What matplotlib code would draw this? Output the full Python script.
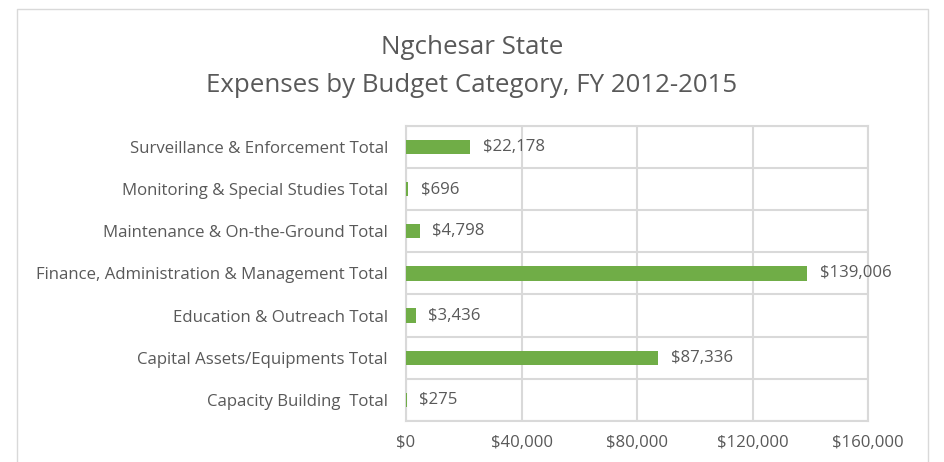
import matplotlib
matplotlib.use("Agg")
import matplotlib.pyplot as plt
from matplotlib.lines import Line2D
from matplotlib.ticker import FuncFormatter

plt.rcParams['font.family'] = ['Open Sans', 'DejaVu Sans']

categories = ["Capacity Building  Total",
              "Capital Assets/Equipments Total",
              "Education & Outreach Total",
              "Finance, Administration & Management Total",
              "Maintenance & On-the-Ground Total",
              "Monitoring & Special Studies Total",
              "Surveillance & Enforcement Total"]
values = [275, 87336, 3436, 139006, 4798, 696, 22178]
x_ticks = [0, 40000, 80000, 120000, 160000]

text_col = "#595959"
grid_col = "#D9D9D9"
bar_col = "#70AD47"
fs = 12.1

fig = plt.figure(figsize=(9.44, 4.62), dpi=100)
ax = fig.add_axes([0.4301, 0.0887, 0.4894, 0.639])

y = list(range(len(categories)))
ax.barh(y, values, height=0.34, color=bar_col, zorder=3)

for yi, v in zip(y, values):
    ax.annotate("${:,}".format(v), (v, yi), xytext=(9, 0), textcoords="offset points",
                va="center", ha="left", fontsize=fs, color=text_col)

ax.set_xlim(0, 160000)
ax.set_ylim(-0.5, len(categories) - 0.5)
ax.set_xticks(x_ticks)
ax.xaxis.set_major_formatter(FuncFormatter(lambda v, p: "${:,.0f}".format(v)))
ax.set_yticks(y)
ax.set_yticklabels(categories)
ax.set_yticks([i - 0.5 for i in range(len(categories) + 1)], minor=True)
ax.tick_params(axis="both", which="both", length=0, colors=text_col, labelsize=fs)
ax.tick_params(axis="x", pad=10)
ax.tick_params(axis="y", pad=13)
ax.grid(axis="x", which="major", color=grid_col, linewidth=1.5, zorder=0)
ax.grid(axis="y", which="minor", color=grid_col, linewidth=1.5, zorder=0)
for s in ax.spines.values():
    s.set_color(grid_col)
    s.set_linewidth(1.5)

fig.text(0.5, 1 - 54 / 462, "Ngchesar State", ha="center", va="baseline", fontsize=18.6, color=text_col)
fig.text(0.5, 1 - 92 / 462, "Expenses by Budget Category, FY 2012-2015", ha="center", va="baseline",
         fontsize=18.6, color=text_col)

# chart border (bottom edge is cut off in the original)
bx0, bx1, by1 = 17 / 944, 928 / 944, 1 - 9 / 462
fig.add_artist(Line2D([bx0, bx0, bx1, bx1], [0, by1, by1, 0], transform=fig.transFigure,
                      color=grid_col, linewidth=1.0))

fig.savefig("out.png", dpi=100, facecolor="white")
